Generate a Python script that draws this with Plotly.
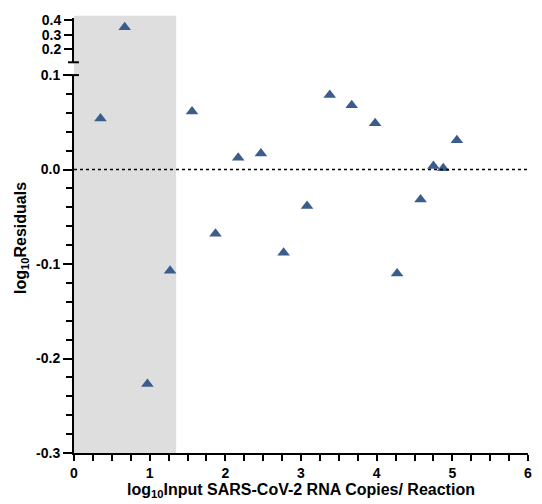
import numpy as np
import plotly.graph_objects as go

# Data
x_vals = [0.35, 0.67, 0.97, 1.27, 1.56, 1.87, 2.17, 2.47, 2.77, 3.08, 3.38, 3.67, 3.98, 4.27, 4.58, 4.75, 4.88, 5.06]
residuals = [0.054, 0.35, -0.227, -0.107, 0.0615, -0.068, 0.0125, 0.017, -0.088, -0.0385, 0.079, 0.068, 0.049, -0.11, -0.0316, 0.0038, 0.0014, 0.031]

lower_ticks = [-0.3, -0.2, -0.1, 0.0, 0.1]
lower_ticktext = ["-0.3", "-0.2", "-0.1", "0.0", "0.1"]
upper_ticks = [0.2, 0.3, 0.4]
upper_ticktext = ["0.2", "0.3", "0.4"]
x_ticks = [0, 1, 2, 3, 4, 5, 6]
x_minor_step = 0.25
y_minor_step = 0.02
shade_range = [0, 1.35]

marker_color = "rgb(58,93,140)"
font_family = "Liberation Sans, Arial, sans-serif"
BREAK = 0.1

lx = [x for x, y in zip(x_vals, residuals) if y <= BREAK]
ly = [y for y in residuals if y <= BREAK]
ux = [x for x, y in zip(x_vals, residuals) if y > BREAK]
uy = [y for y in residuals if y > BREAK]

x_all_ticks = [float(v) for v in np.arange(0, 6.001, x_minor_step)]
x_all_text = ["<b>%d</b>" % round(v) if abs(v - round(v)) < 1e-6 else "" for v in x_all_ticks]

fig = go.Figure()
mk = dict(symbol="triangle-up", size=11, color=marker_color)
fig.add_trace(go.Scatter(x=lx, y=ly, mode="markers", marker=mk, xaxis="x", yaxis="y", showlegend=False))
fig.add_trace(go.Scatter(x=ux, y=uy, mode="markers", marker=mk, xaxis="x", yaxis="y2", showlegend=False))

tickfont = dict(family=font_family, size=14, color="black")
titlefont = dict(family=font_family, size=16, color="black")

lower_top = (455 - 71) / 442
upper_bottom = (455 - 58) / 442

def b(t):
    return "<b>" + t + "</b>"

fig.update_layout(
    width=542, height=504,
    margin=dict(l=74, r=10, t=13, b=49),
    plot_bgcolor="white", paper_bgcolor="white",
    xaxis=dict(
        range=[0, 6], anchor="y", showgrid=False, zeroline=False,
        showline=True, linecolor="black", linewidth=2,
        tickmode="array", tickvals=x_all_ticks, ticktext=x_all_text,
        ticks="outside", ticklen=6, tickwidth=2, tickcolor="black",
        tickfont=tickfont,
        title=dict(text=b("log<sub>10</sub>Input SARS-CoV-2 RNA Copies/ Reaction"), font=titlefont, standoff=2),
    ),
    yaxis=dict(
        domain=[0, lower_top], range=[-0.3, 0.1], anchor="x",
        showgrid=False, zeroline=False,
        showline=True, linecolor="black", linewidth=2,
        tickmode="array", tickvals=lower_ticks, ticktext=[b(t) for t in lower_ticktext],
        ticks="outside", ticklen=9, tickwidth=2, tickcolor="black",
        minor=dict(tickmode="linear", tick0=0, dtick=y_minor_step, ticks="outside", ticklen=6, tickwidth=2, tickcolor="black", showgrid=False),
        tickfont=tickfont,
    ),
    yaxis2=dict(
        domain=[upper_bottom, 1], range=[0.113, 0.413], anchor="x",
        showgrid=False, zeroline=False,
        showline=True, linecolor="black", linewidth=2,
        tickmode="array", tickvals=upper_ticks, ticktext=[b(t) for t in upper_ticktext],
        ticks="outside", ticklen=8, tickwidth=2, tickcolor="black",
        tickfont=dict(family=font_family, size=14, color="black"),
    ),
    annotations=[
        dict(text=b("log<sub>10</sub>Residuals"), textangle=-90, xref="paper", yref="paper",
             x=(21 - 74) / 458, y=(455 - 236) / 442, xanchor="center", yanchor="middle",
             showarrow=False, font=titlefont),
    ],
    shapes=[
        dict(type="rect", xref="x", yref="paper", x0=shade_range[0], x1=shade_range[1], y0=0, y1=1.005,
             fillcolor="rgb(222,222,222)", line=dict(width=0), layer="below"),
        dict(type="line", xref="x", yref="y", x0=0, x1=6, y0=0, y1=0,
             line=dict(color="black", width=1.5, dash="dot")),
        dict(type="line", xref="paper", yref="paper", x0=-6/458, x1=5/458, y0=upper_bottom, y1=upper_bottom,
             line=dict(color="black", width=2)),
        dict(type="line", xref="paper", yref="paper", x0=-6/458, x1=5/458, y0=lower_top, y1=lower_top,
             line=dict(color="black", width=2)),
    ],
)

fig.write_html("out.html")
